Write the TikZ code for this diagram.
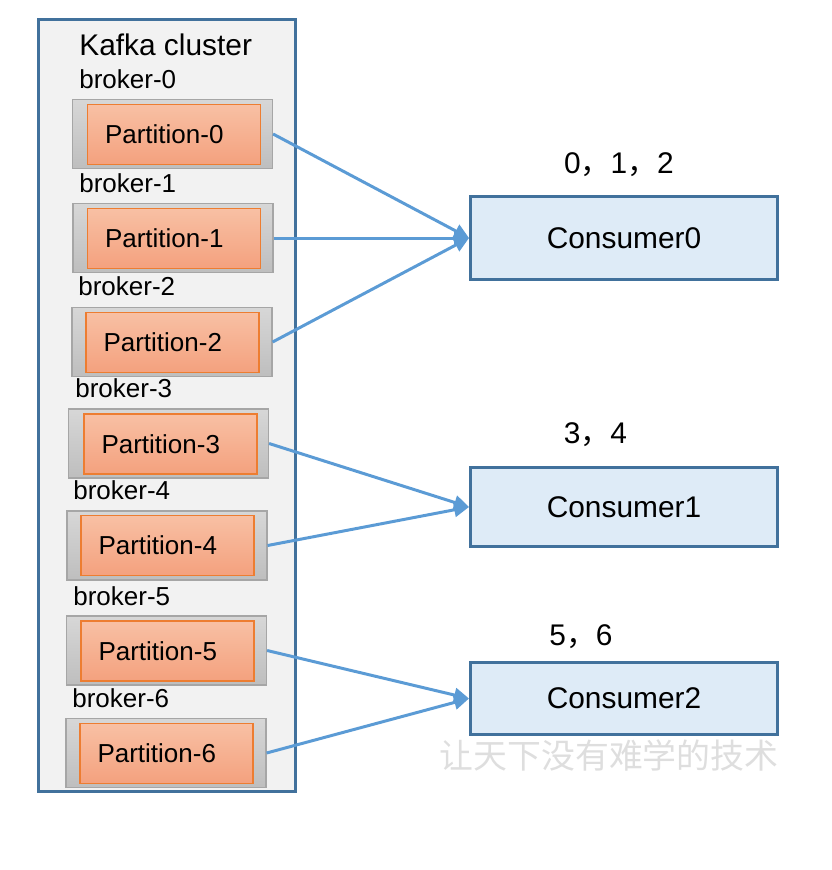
\documentclass[tikz,border=0pt]{standalone}
\usepackage{fontspec}
\setmainfont{Liberation Sans}
\newfontfamily\cjkfont{Noto Sans CJK SC}
\usetikzlibrary{positioning}
\usetikzlibrary{arrows.meta}
\definecolor{clusterblue}{RGB}{65,113,156}
\definecolor{clusterfill}{RGB}{242,242,242}
\definecolor{consumerfill}{RGB}{222,235,247}
\definecolor{edgeblue}{RGB}{91,155,213}
\definecolor{partline}{RGB}{237,125,49}
\definecolor{parttop}{RGB}{248,192,164}
\definecolor{partbottom}{RGB}{244,161,126}
\definecolor{brokerline}{RGB}{166,166,166}
\definecolor{brokertop}{RGB}{215,215,215}
\definecolor{brokerbottom}{RGB}{190,190,190}
\tikzset{
    cluster/.style = {rectangle, line width=1.7pt, draw=clusterblue, fill=clusterfill, minimum width=5.14cm, minimum height=15.44cm},
    brokerbox/.style = {rectangle, draw=brokerline, line width=0.7pt, top color=brokertop, bottom color=brokerbottom, minimum width=4.0cm, minimum height=1.38cm},
    partbox/.style = {rectangle, draw=partline, line width=0.7pt, top color=parttop, bottom color=partbottom, minimum height=1.2cm, text width=2.76cm, inner xsep=0.35cm, align=left, font=\fontsize{14.8}{16}\selectfont},
    lbl/.style = {anchor=base west, inner sep=0pt, font=\fontsize{14.8}{16}\selectfont},
    title/.style = {anchor=base west, inner sep=0pt, font=\fontsize{17}{20}\selectfont},
    consumer/.style = {rectangle, line width=1.7pt, draw=clusterblue, fill=consumerfill, minimum width=6.14cm, font=\fontsize{17}{20}\selectfont},
    offsets/.style = {anchor=base, inner sep=0pt, font=\fontsize{17}{20}\selectfont},
    wmark/.style = {inner sep=0pt, text=black!13, font=\cjkfont\fontsize{19.3}{22}\selectfont},
    edgeb/.style = {-{Triangle[length=8.5pt,width=8pt]}, line width=1.7pt, edgeblue}
}
\begin{document}
\begin{tikzpicture}[x=0.02cm, y=-0.02cm]
\useasboundingbox (0,0) rectangle (832,870);
%
\node[cluster] at (167, 405.5) (cluster) {};
\node[title] at (79, 55) (ktitle) {Kafka cluster};
%
\node[lbl] at (79, 88) (b0) {broker-0};
\node[lbl] at (79, 192) (b1) {broker-1};
\node[lbl] at (78, 295) (b2) {broker-2};
\node[lbl] at (75, 397) (b3) {broker-3};
\node[lbl] at (73, 499) (b4) {broker-4};
\node[lbl] at (73, 605) (b5) {broker-5};
\node[lbl] at (72, 707) (b6) {broker-6};
%
\node[brokerbox] at (172.5, 134) (p0) {};
\node[brokerbox] at (173, 238) (p1) {};
\node[brokerbox] at (172, 342) (p2) {};
\node[brokerbox] at (168.5, 443.5) (p3) {};
\node[brokerbox] at (167, 545.5) (p4) {};
\node[brokerbox] at (166.5, 650.5) (p5) {};
\node[brokerbox] at (166, 753) (p6) {};
%
\node[partbox] at (174, 134.5) (q0) {Partition-0};
\node[partbox] at (174, 238.5) (q1) {Partition-1};
\node[partbox] at (172.5, 342.5) (q2) {Partition-2};
\node[partbox] at (170.5, 444) (q3) {Partition-3};
\node[partbox] at (167.5, 545.5) (q4) {Partition-4};
\node[partbox] at (167.5, 651) (q5) {Partition-5};
\node[partbox] at (166.5, 753.5) (q6) {Partition-6};
%
\node[consumer, minimum height=1.66cm] at (624, 238) (c0) {Consumer0};
\node[consumer, minimum height=1.58cm] at (624, 507) (c1) {Consumer1};
\node[consumer, minimum height=1.44cm] at (624, 698.5) (c2) {Consumer2};
%
\node[offsets] at (619, 173) (o0) {0{\cjkfont ，}1{\cjkfont ，}2};
\node[offsets] at (595.5, 443) (o1) {3{\cjkfont ，}4};
\node[offsets] at (581, 645) (o2) {5{\cjkfont ，}6};
%
\draw[edgeb] (p0.east) -- (c0.west);
\draw[edgeb] (p1.east) -- (c0.west);
\draw[edgeb] (p2.east) -- (c0.west);
\draw[edgeb] (p3.east) -- (c1.west);
\draw[edgeb] (p4.east) -- (c1.west);
\draw[edgeb] (p5.east) -- (c2.west);
\draw[edgeb] (p6.east) -- (c2.west);

\node[wmark] at (609, 755) (wm) {让天下没有难学的技术};

\end{tikzpicture}
\end{document}
